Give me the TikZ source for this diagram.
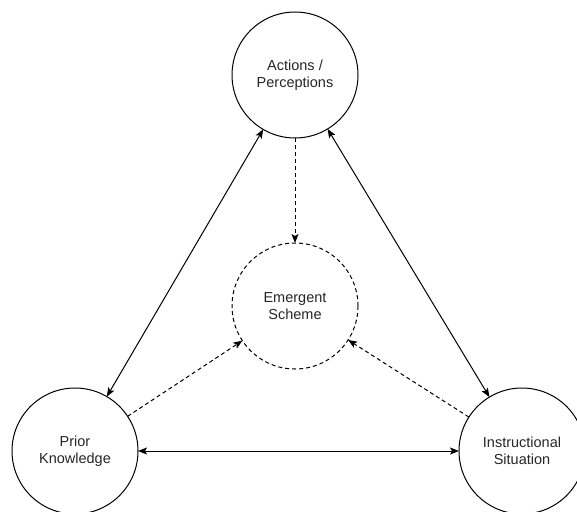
\documentclass[tikz,border=0pt]{standalone}
\usepackage{fontspec}
\setmainfont{Liberation Sans}
\usetikzlibrary{arrows.meta}
\begin{document}
\begin{tikzpicture}[x=1pt,y=-1pt,
  bubble/.style={circle,draw=black,line width=1pt,minimum size=126pt,inner sep=0pt,outer sep=0pt,
    align=center,font=\fontsize{14.5pt}{17pt}\selectfont,text=black!85},
  dbubble/.style={bubble,dash pattern=on 4pt off 3pt},
  link/.style={line width=1pt,{Stealth[length=9pt,width=7pt,inset=2pt]}-{Stealth[length=9pt,width=7pt,inset=2pt]}},
  dlink/.style={line width=1pt,dash pattern=on 4pt off 3pt,-{Stealth[length=9pt,width=7pt,inset=2pt]}}]
\useasboundingbox (0,0) rectangle (577,511);
\clip (0,0) rectangle (577,511);
\node[bubble] (act) at (295,75) {Actions /\\Perceptions};
\node[dbubble] (emg) at (295,306) {Emergent\\Scheme};
\node[bubble] (pri) at (75,451) {Prior\\Knowledge};
\node[bubble] (ins) at (522,451) {Instructional\\Situation};
\draw[link] (pri) -- (act);
\draw[link] (act) -- (ins);
\draw[link] (pri) -- (ins);
\draw[dlink] (act) -- (emg);
\draw[dlink] (pri) -- (emg);
\draw[dlink] (ins) -- (emg);
\end{tikzpicture}
\end{document}
